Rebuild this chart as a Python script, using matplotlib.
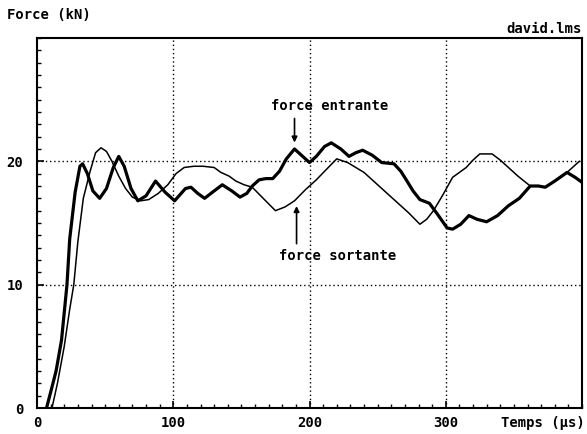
import matplotlib
matplotlib.use("Agg")
import matplotlib.pyplot as plt
from matplotlib.ticker import MultipleLocator

# Force entrante (thick line)
t_in = [7, 11, 14, 18, 22, 24, 28, 31.5, 33.5, 37, 41, 46, 51, 56, 60, 64, 69, 74, 80, 87, 94, 101,
        105, 109, 113, 118, 123, 130, 136, 143, 149, 154, 158, 163, 168, 173, 178, 183, 189, 194, 200,
        205, 211, 216, 223, 229, 234, 239, 246, 253, 262, 267, 271, 276, 281, 288, 294, 301, 305,
        311, 317, 323, 330, 338, 346, 354, 362, 368, 373, 380, 389, 395, 400]
f_in = [0, 1.7, 3, 5.5, 10, 13.7, 17.5, 19.6, 19.8, 19.0, 17.6, 17.0, 17.8, 19.5, 20.4, 19.6, 17.8,
        16.8, 17.2, 18.4, 17.5, 16.8,
        17.3, 17.8, 17.9, 17.4, 17.0, 17.6, 18.1, 17.6, 17.1, 17.4, 18.0, 18.5, 18.6, 18.6, 19.2, 20.2,
        21.0, 20.5, 19.9,
        20.4, 21.2, 21.5, 21.0, 20.4, 20.7, 20.9, 20.5, 19.9, 19.8, 19.2, 18.5, 17.6, 16.9, 16.6, 15.7,
        14.6, 14.5,
        14.9, 15.6, 15.3, 15.1, 15.6, 16.4, 17.0, 18.0, 18.0, 17.9, 18.4, 19.1, 18.7, 18.3]

# Force sortante (thin line)
t_out = [11, 15, 20, 24, 27, 30, 34, 39, 43, 47, 51, 55, 60, 65, 70, 76, 82, 89, 96, 102, 108, 115,
         122, 130, 135, 141, 146, 152, 158, 166, 175, 182, 189, 197, 205, 212, 220, 228, 234, 240, 246,
         252, 258, 265, 273, 281, 286, 291, 298, 305, 310, 315, 320, 325, 334, 340, 346, 353, 362,
         368, 373, 380, 389, 394, 398]
f_out = [0, 2, 5, 8, 10, 13.5, 17, 19.2, 20.7, 21.1, 20.8, 20.0, 18.8, 17.8, 17.1, 16.8, 16.9, 17.4,
         18.1, 19.0, 19.5, 19.6, 19.6, 19.5, 19.1, 18.8, 18.4, 18.1, 17.9, 17.0, 16.0, 16.3, 16.8,
         17.7, 18.5, 19.3, 20.2, 19.9, 19.5, 19.1, 18.5, 17.9, 17.3, 16.6, 15.8, 14.9, 15.3, 16.0,
         17.3, 18.7, 19.1, 19.5, 20.1, 20.6, 20.6, 20.1, 19.5, 18.8, 18.0, 18.0, 17.9, 18.4, 19.1,
         19.6, 20.0]

x_ticks = [0, 100, 200, 300]
x_labels = ["0", "100", "200", "300"]
y_ticks = [0, 10, 20]
y_labels = ["0", "10", "20"]

label_in = "force entrante"
label_out = "force sortante"
y_title = "Force (kN)"
x_title = "Temps (µs)"
file_title = "david.lms"

FONT = dict(family="DejaVu Sans Mono", fontweight="bold", fontsize=10)

fig = plt.figure(figsize=(5.87, 4.34), dpi=100)
ax = fig.add_axes([37 / 587, 1 - 408 / 434, (582 - 37) / 587, (408 - 38) / 434])

ax.plot(t_in, f_in, color="black", lw=2.3, solid_joinstyle="round", zorder=3)
ax.plot(t_out, f_out, color="black", lw=1.1, zorder=3)

ax.set_xlim(0, 400)
ax.set_ylim(0, 30)

ax.set_xticks(x_ticks)
ax.set_xticklabels(x_labels, **FONT)
ax.set_yticks(y_ticks)
ax.set_yticklabels(y_labels, **FONT)
ax.xaxis.set_minor_locator(MultipleLocator(10))
ax.yaxis.set_minor_locator(MultipleLocator(1))
ax.tick_params(which="both", direction="in", top=False, right=False, color="black")
ax.tick_params(which="major", length=5, width=1.2, pad=6)
ax.tick_params(which="minor", length=3, width=1.0)
ax.tick_params(axis="y", which="major", pad=10)

for x in [100, 200, 300]:
    ax.axvline(x, color="black", lw=1.0, ls=(0, (1, 2)), zorder=1)
for y in [10, 20]:
    ax.axhline(y, color="black", lw=1.0, ls=(0, (1, 2)), zorder=1)

for s in ax.spines.values():
    s.set_linewidth(1.5)

ax.annotate("", xy=(189, 21.3), xytext=(189, 23.7),
            arrowprops=dict(arrowstyle="-|>", color="black", lw=1.2, mutation_scale=8))
ax.text(214.5, 24.5, label_in, ha="center", va="center", **FONT)
ax.annotate("", xy=(190.5, 16.6), xytext=(190.5, 13.1),
            arrowprops=dict(arrowstyle="-|>", color="black", lw=1.2, mutation_scale=8))
ax.text(220.5, 12.3, label_out, ha="center", va="center", **FONT)

fig.text(7 / 587, 1 - 15 / 434, y_title, ha="left", va="center", **FONT)
fig.text(582 / 587, 1 - 36 / 434, file_title, ha="right", va="bottom", **FONT)
fig.text(585 / 587, 1 - 423 / 434, x_title, ha="right", va="center", **FONT)

fig.savefig("out.png", dpi=100)
